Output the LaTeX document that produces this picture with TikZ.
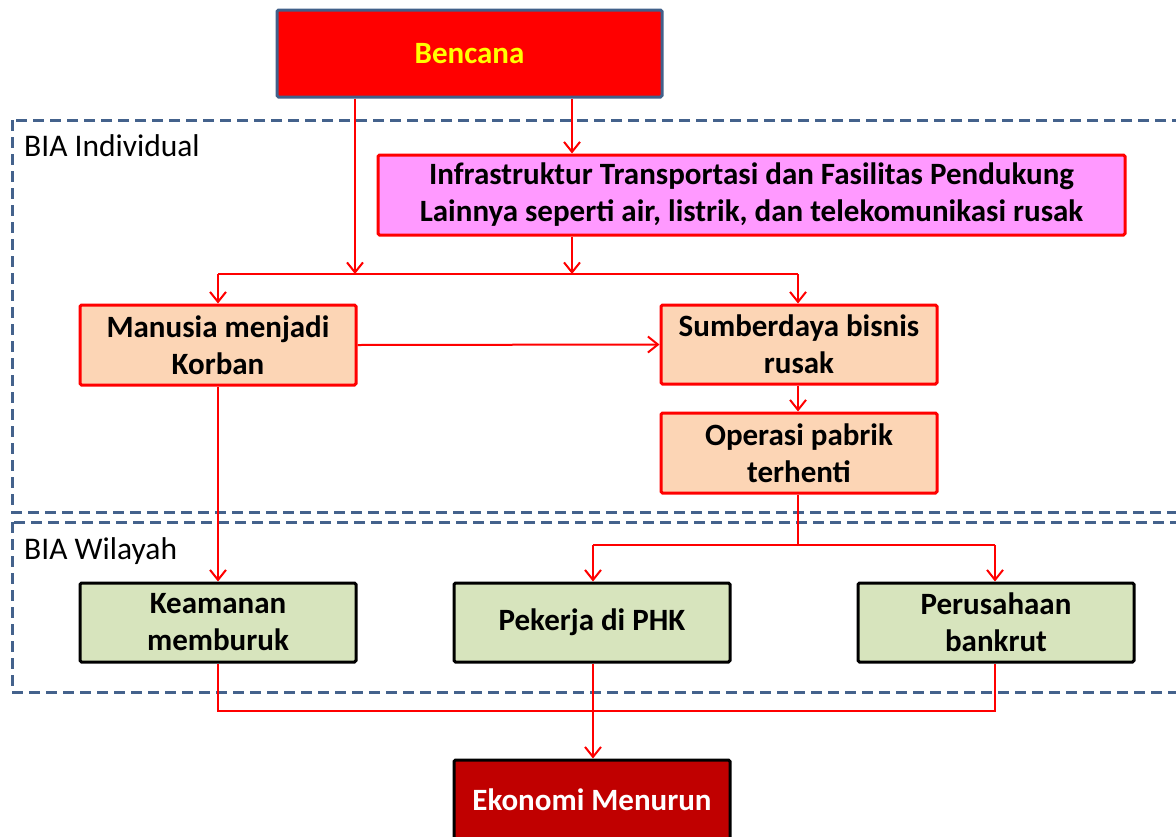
\documentclass[tikz,border=0pt]{standalone}
\usepackage{fontspec}
\setmainfont{Carlito}
\usetikzlibrary{arrows.meta}
\definecolor{bred}{HTML}{FF0000}
\definecolor{bblue}{HTML}{41608A}
\definecolor{bpink}{HTML}{FF99FF}
\definecolor{bpeach}{HTML}{FCD5B5}
\definecolor{bgreen}{HTML}{D7E4BD}
\definecolor{bdark}{HTML}{C00000}
\definecolor{bdash}{HTML}{44628C}
\definecolor{byellow}{HTML}{FFFF00}
\tikzset{
  box/.style={draw, line width=3pt, rounded corners=1.5pt, align=center, inner sep=0pt,
    font=\fontsize{31}{37}\selectfont\bfseries},
  redbox/.style={box, draw=bred, fill=bpeach},
  greenbox/.style={box, draw=black, fill=bgreen},
  region/.style={draw=bdash, line width=3pt, dash pattern=on 11pt off 6pt},
  conn/.style={draw=bred, line width=2pt},
  arr/.style={conn, -{Straight Barb[length=10pt,width=16pt,line width=2pt]}},
  lbl/.style={anchor=west, inner sep=0pt, font=\fontsize{31.5}{34}\selectfont}
}
\begin{document}
\begin{tikzpicture}[x=1pt,y=-1pt]
\useasboundingbox (0,0) rectangle (1176,836);
% regions
\draw[region] (12,120) rectangle (1200,512);
\draw[region] (12,522) rectangle (1200,692);
\node[lbl] (lind) at (24,146) {BIA Individual};
\node[lbl] (lwil) at (24,551) {BIA Wilayah};
% boxes
\node[box, draw=bblue, fill=bred, text=byellow, minimum width=385pt, minimum height=87pt] (ben) at (469.5,53.5) {Bencana};
\node[box, draw=bred, fill=bpink, minimum width=747pt, minimum height=80pt] (inf) at (751.5,195) {Infrastruktur Transportasi dan Fasilitas Pendukung\\Lainnya seperti air, listrik, dan telekomunikasi rusak};
\node[redbox, minimum width=276pt, minimum height=80pt] (man) at (218,345) {Manusia menjadi\\Korban};
\node[redbox, minimum width=276pt, minimum height=79pt] (sum) at (799,344.5) {Sumberdaya bisnis\\rusak};
\node[redbox, minimum width=276pt, minimum height=80pt] (op) at (799,453) {Operasi pabrik\\terhenti};
\node[greenbox, minimum width=276pt, minimum height=79pt] (kea) at (218,622.5) {Keamanan\\memburuk};
\node[greenbox, minimum width=276pt, minimum height=79pt] (pek) at (592,622.5) {Pekerja di PHK};
\node[greenbox, minimum width=276pt, minimum height=79pt] (per) at (996,622.5) {Perusahaan\\bankrut};
\node[box, draw=black, fill=bdark, text=white, minimum width=276pt, minimum height=90pt] (eko) at (592,805) {\raisebox{10pt}{Ekonomi Menurun}};
% junctions
\coordinate (jA) at (355,274);
\coordinate (jB) at (572,274);
\coordinate (jL) at (218,274);
\coordinate (jR) at (798,274);
\coordinate (jO) at (798,545);
\coordinate (jP) at (593,545);
\coordinate (jQ) at (995,545);
\coordinate (jK) at (218,711);
\coordinate (jM) at (593,711);
\coordinate (jE) at (995,711);
% connectors
\draw[arr] (ben.south -| jA) -- (jA);
\draw[arr] (ben.south -| jB) -- (inf.north -| jB);
\draw[arr] (inf.south -| jB) -- (jB);
\draw[conn] (jL) -- (jR);
\draw[arr] (jL) -- (man.north);
\draw[arr] (jR) -- (sum.north -| jR);
\draw[arr] (man.east) -- (sum.west);
\draw[arr] (sum.south -| jR) -- (op.north -| jR);
\draw[conn] (op.south -| jO) -- (jO);
\draw[conn] (jP) -- (jQ);
\draw[arr] (jP) -- (pek.north -| jP);
\draw[arr] (jQ) -- (per.north -| jQ);
\draw[arr] (man.south) -- (kea.north);
\draw[conn] (kea.south) -- (jK) -- (jE) -- (per.south -| jE);
\draw[arr] (pek.south -| jM) -- (eko.north -| jM);
\end{tikzpicture}
\end{document}
